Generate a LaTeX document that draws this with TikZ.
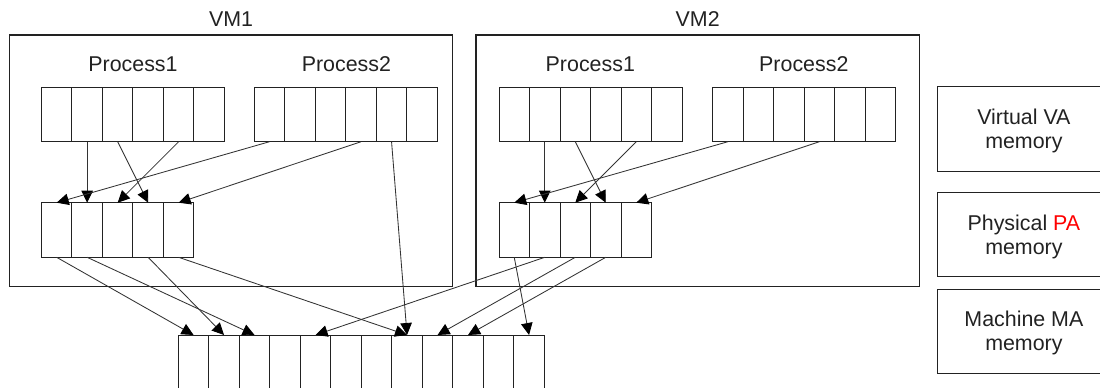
\documentclass[tikz,border=0pt]{standalone}
\usepackage{fontspec}
\setmainfont{Liberation Sans}
\usetikzlibrary{arrows.meta}
\definecolor{lc}{HTML}{222222}
\definecolor{ac}{HTML}{333333}
\definecolor{pared}{HTML}{FF0000}
\begin{document}
\begin{tikzpicture}[x=1pt,y=-1pt,
  font=\fontsize{21.4}{24}\selectfont, text=lc,
  cell/.style={draw=lc, line width=1pt, minimum width=30.5pt, inner sep=0pt, outer sep=0pt, anchor=north west},
  vmbox/.style={draw=lc, line width=1.1pt, inner sep=0pt, outer sep=0pt, anchor=north west},
  lgbox/.style={draw=lc, line width=1.1pt, inner sep=0pt, outer sep=0pt, align=center, text depth=0pt, minimum width=172.3pt},
  conn/.style={draw=ac, line width=0.85pt, -{Triangle[length=12pt,width=11.5pt,fill=black,color=black]}}]
\useasboundingbox (0,0) rectangle (1100,388);
\clip (0,0) rectangle (1100,388);
% VM boxes
\node[vmbox, minimum width=442.7pt, minimum height=251.7pt] (vm1) at (9.8,35) {};
\node[vmbox, minimum width=443.3pt, minimum height=251.7pt] (vm2) at (476,35) {};
\node (vm1l) at (231,19.5) {VM1};
\node (vm2l) at (697.7,19.5) {VM2};
\node (v1al) at (133,63.8) {Process1};
\node (v1bl) at (346.4,63.8) {Process2};
\node (v2al) at (590.3,63.8) {Process1};
\node (v2bl) at (803.8,63.8) {Process2};
% arrays
\foreach \i in {1,...,6}{
  \node[cell, minimum height=54.4pt] (v1a\i) at ({41.4+(\i-1)*30.5},87.3) {};
  \node[cell, minimum height=54.4pt] (v1b\i) at ({254.3+(\i-1)*30.5},87.3) {};
  \node[cell, minimum height=54.4pt] (v2a\i) at ({499+(\i-1)*30.5},87.3) {};
  \node[cell, minimum height=54.4pt] (v2b\i) at ({712.7+(\i-1)*30.5},87.3) {};
}
\foreach \i in {1,...,5}{
  \node[cell, minimum height=54.6pt] (v1p\i) at ({41.4+(\i-1)*30.5},202.7) {};
  \node[cell, minimum height=54.6pt] (v2p\i) at ({499+(\i-1)*30.5},202.7) {};
}
\foreach \i in {1,...,12}{
  \node[cell, minimum height=60pt] (m\i) at ({178.3+(\i-1)*30.5},335) {};
}
% legend
\node[lgbox, minimum height=85pt] (lg1) at (1023.9,129.2) {Virtual VA\\memory};
\node[lgbox, minimum height=84.4pt] (lg2) at (1023.9,234.5) {Physical \textcolor{pared}{PA}\\memory};
\node[lgbox, minimum height=84.3pt] (lg3) at (1023.9,331.2) {Machine MA\\memory};
% VM1 connectors
\draw[conn] (v1a2.south) -- (v1p2.north);
\draw[conn] (v1a3.south) -- (v1p4.north);
\draw[conn] (v1a5.south) -- (v1p3.north);
\draw[conn] (v1b1.south) -- (v1p1.north);
\draw[conn] (v1b4.south) -- (v1p5.north);
\draw[conn] (v1b5.south) -- (m8.north);
\draw[conn] (v1p1.south) -- (m1.north);
\draw[conn] (v1p2.south) -- (m3.north);
\draw[conn] (v1p4.south) -- (m2.north);
\draw[conn] (v1p5.south) -- (m8.north);
% VM2 connectors
\draw[conn] (v2a2.south) -- (v2p2.north);
\draw[conn] (v2a3.south) -- (v2p4.north);
\draw[conn] (v2a5.south) -- (v2p3.north);
\draw[conn] (v2b1.south) -- (v2p1.north);
\draw[conn] (v2b4.south) -- (v2p5.north);
\draw[conn] (v2p1.south) -- (m12.north);
\draw[conn] (v2p2.south) -- (m5.north);
\draw[conn] (v2p3.south) -- (m9.north);
\draw[conn] (v2p4.south) -- (m10.north);
\end{tikzpicture}
\end{document}
